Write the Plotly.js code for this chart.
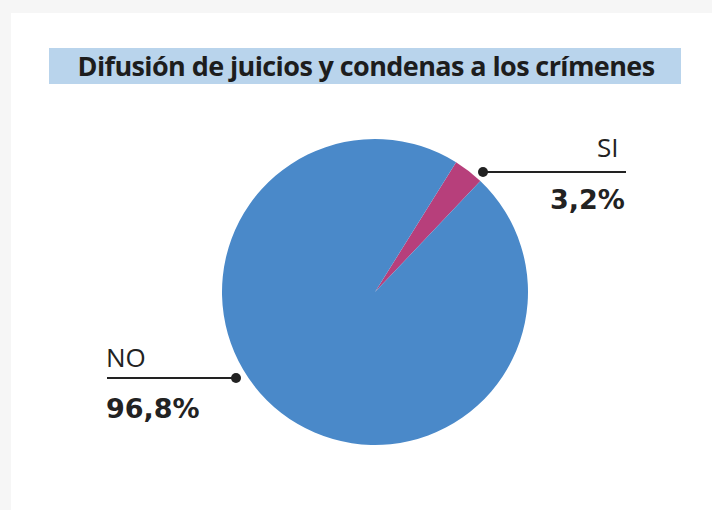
<!DOCTYPE html>
<html><head><meta charset="utf-8">
<script src="https://cdn.plot.ly/plotly-3.0.1.min.js"></script>
<style>html,body{margin:0;padding:0;background:#f6f6f6;}
.annotation.title-ann text{letter-spacing:-0.6px;}
</style>
</head><body><div id="chart" style="width:712px;height:510px;"></div>
<script>
const categories = ["SI", "NO"];
const values = [3.2, 96.8];
const valueLabels = ["3,2%", "96,8%"];
const colors = ["#b73f7b", "#4a89c9"];
const titleText = "Difusión de juicios y condenas a los crímenes";

const W = 712, H = 510;
const px = x => x / W, py = y => 1 - y / H;

const trace = {
  type: "pie",
  labels: categories,
  values: values,
  sort: false,
  direction: "clockwise",
  rotation: 32,
  marker: {colors: colors, line: {width: 0}},
  textinfo: "none",
  hoverinfo: "none",
  showlegend: false,
  domain: {x: [px(222), px(528)], y: [py(445), py(139)]}
};

const dark = "#222222";
const layout = {
  width: W, height: H,
  margin: {l: 0, r: 0, t: 0, b: 0},
  paper_bgcolor: "#f6f6f6",
  showlegend: false,
  shapes: [
    {type: "rect", xref: "paper", yref: "paper", x0: px(11), x1: 1, y0: 0, y1: py(13), fillcolor: "#ffffff", line: {width: 0}, layer: "below"},
    {type: "rect", xref: "paper", yref: "paper", x0: px(49), x1: px(681), y0: py(84), y1: py(48), fillcolor: "#b9d4ec", line: {width: 0}, layer: "below"},
    {type: "line", xref: "paper", yref: "paper", x0: px(483), x1: px(626), y0: py(172), y1: py(172), line: {color: dark, width: 2}},
    {type: "circle", xref: "paper", yref: "paper", x0: px(478), x1: px(488), y0: py(177), y1: py(167), fillcolor: dark, line: {width: 0}},
    {type: "line", xref: "paper", yref: "paper", x0: px(107), x1: px(236), y0: py(378), y1: py(378), line: {color: dark, width: 2}},
    {type: "circle", xref: "paper", yref: "paper", x0: px(231), x1: px(241), y0: py(383), y1: py(373), fillcolor: dark, line: {width: 0}}
  ],
  annotations: [
    {text: "<b>" + titleText + "</b>", xref: "paper", yref: "paper", x: px(366), y: py(66), xanchor: "center", yanchor: "middle", showarrow: false, font: {family: "Open Sans", size: 27, color: "#1d1d1d"}},
    {text: categories[0], xref: "paper", yref: "paper", x: px(621), y: py(147), xanchor: "right", yanchor: "middle", showarrow: false, font: {family: "Open Sans", size: 26, color: dark}},
    {text: "<b>" + valueLabels[0] + "</b>", xref: "paper", yref: "paper", x: px(627), y: py(200), xanchor: "right", yanchor: "middle", showarrow: false, font: {family: "DejaVu Sans", size: 27, color: dark}},
    {text: categories[1], xref: "paper", yref: "paper", x: px(104), y: py(357), xanchor: "left", yanchor: "middle", showarrow: false, font: {family: "Open Sans", size: 26, color: dark}},
    {text: "<b>" + valueLabels[1] + "</b>", xref: "paper", yref: "paper", x: px(104), y: py(408), xanchor: "left", yanchor: "middle", showarrow: false, font: {family: "DejaVu Sans", size: 27, color: dark}}
  ]
};

Plotly.newPlot("chart", [trace], layout, {displayModeBar: false, staticPlot: true}).then(() => {
  const anns = document.querySelectorAll(".annotation");
  if (anns.length) anns[0].classList.add("title-ann");
});
</script></body></html>
